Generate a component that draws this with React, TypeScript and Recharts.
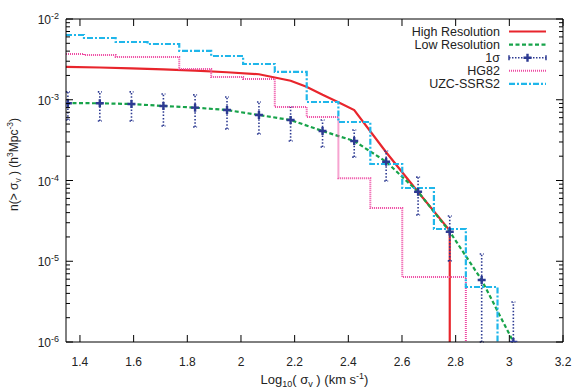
import { LineChart, Line, XAxis, YAxis, ErrorBar, Legend, Label } from "recharts";

const FONT = '"Liberation Sans", Arial, Helvetica, sans-serif';

const RED = "#e8252c";
const GREEN = "#17a34a";
const NAVY = "#2d3a92";
const PINK = "#ee4aa3";
const CYAN = "#1fb6ea";

// High Resolution
const highX = [1.348, 1.474, 1.592, 1.711, 1.829, 1.948, 2.067, 2.185, 2.244, 2.304, 2.363, 2.422, 2.541, 2.66, 2.778, 2.778];
const highN = [2.56e-3, 2.51e-3, 2.45e-3, 2.38e-3, 2.29e-3, 2.19e-3, 2.07e-3, 1.72e-3, 1.45e-3, 1.15e-3, 9.3e-4, 7.46e-4, 2.24e-4, 7.2e-5, 2.4e-5, 1e-8];

// Low Resolution
const lowX = [1.348, 1.474, 1.592, 1.711, 1.829, 1.948, 2.067, 2.185, 2.304, 2.422, 2.541, 2.66, 2.778, 2.897, 3.015];
const lowN = [9.1e-4, 9.04e-4, 8.85e-4, 8.38e-4, 7.98e-4, 7.46e-4, 6.47e-4, 5.61e-4, 4.1e-4, 3.08e-4, 1.71e-4, 7.26e-5, 2.32e-5, 5.86e-6, 1.0e-6];

// 1 sigma points with error range
const sigmaX = [1.355, 1.474, 1.592, 1.711, 1.829, 1.948, 2.067, 2.185, 2.304, 2.422, 2.541, 2.66, 2.778, 2.897, 3.015];
const sigmaN = [9.04e-4, 9.04e-4, 8.85e-4, 8.38e-4, 7.98e-4, 7.46e-4, 6.47e-4, 5.61e-4, 4.1e-4, 3.08e-4, 1.71e-4, 7.26e-5, 2.32e-5, 5.86e-6, 1.0e-6];
const sigmaHigh = [1.25e-3, 1.25e-3, 1.25e-3, 1.18e-3, 1.15e-3, 1.08e-3, 9.38e-4, 8.13e-4, 5.61e-4, 4.22e-4, 2.32e-4, 1.1e-4, 3.63e-5, 1.23e-5, 3.13e-6];
const sigmaLow = [5.61e-4, 5.46e-4, 5.46e-4, 4.73e-4, 4.6e-4, 4.35e-4, 3.77e-4, 3.08e-4, 2.6e-4, 1.95e-4, 9.86e-5, 3.74e-5, 1.01e-5, 1.0e-6, 1.0e-6];

// HG82 (histogram steps)
const hgX = [1.348, 1.415, 1.533, 1.77, 1.889, 2.008, 2.126, 2.245, 2.363, 2.482, 2.601, 2.838, 2.838];
const hgN = [3.69e-3, 3.58e-3, 3.38e-3, 2.4e-3, 1.91e-3, 1.81e-3, 8.13e-4, 6.11e-4, 1.07e-4, 4.56e-5, 6.38e-6, 6.38e-6, 1e-8];

// UZC-SSRS2 (histogram steps)
const uzcX = [1.348, 1.415, 1.533, 1.652, 1.77, 1.889, 2.008, 2.126, 2.245, 2.363, 2.482, 2.601, 2.719, 2.838, 2.956, 2.956];
const uzcN = [6.34e-3, 5.82e-3, 5.19e-3, 4.9e-3, 4.02e-3, 3.48e-3, 2.77e-3, 2.21e-3, 9.38e-4, 5.3e-4, 1.6e-4, 8.07e-5, 2.51e-5, 4.8e-6, 4.8e-6, 1e-8];

const xTicks = [1.4, 1.6, 1.8, 2.0, 2.2, 2.4, 2.6, 2.8, 3.0, 3.2];
const yMajor = [1e-6, 1e-5, 1e-4, 1e-3, 1e-2];
const yTicks = [
  ...yMajor,
  ...yMajor.slice(0, 4).flatMap((d) => [2, 3, 4, 5, 6, 7, 8, 9].map((k) => k * d)),
];

const highData = highX.map((x, i) => ({ x, n: highN[i] }));
const lowData = lowX.map((x, i) => ({ x, n: lowN[i] }));
const sigmaData = sigmaX.map((x, i) => ({
  x,
  n: sigmaN[i],
  err: [sigmaN[i] - sigmaLow[i], sigmaHigh[i] - sigmaN[i]],
}));
const hgData = hgX.map((x, i) => ({ x, n: hgN[i] }));
const uzcData = uzcX.map((x, i) => ({ x, n: uzcN[i] }));

const isMajor = (v: number) => {
  const l = Math.log10(v);
  return Math.abs(l - Math.round(l)) < 1e-6;
};

const YLeftTick = (props: any) => {
  const { x, y, payload } = props;
  const v = payload.value as number;
  const major = isMajor(v);
  return (
    <g>
      <line x1={x} x2={x + (major ? 7 : 4)} y1={y} y2={y} stroke="#000" />
      {major && (
        <text x={x - 7} y={y + 5} textAnchor="end" fontSize={12} fill="#222" fontFamily={FONT}>
          10
          <tspan dy={-5} fontSize={9}>
            {Math.round(Math.log10(v))}
          </tspan>
        </text>
      )}
    </g>
  );
};

const YRightTick = (props: any) => {
  const { x, y, payload } = props;
  const major = isMajor(payload.value);
  return <line x1={x - (major ? 7 : 4)} x2={x} y1={y} y2={y} stroke="#000" />;
};

const XBottomTick = (props: any) => {
  const { x, y, payload } = props;
  return (
    <g>
      <line x1={x} x2={x} y1={y} y2={y - 7} stroke="#000" />
      <text x={x} y={y + 24} textAnchor="middle" fontSize={12} fill="#222" fontFamily={FONT}>
        {String(Number(payload.value.toFixed(1)))}
      </text>
    </g>
  );
};

const XTopTick = (props: any) => {
  const { x, y } = props;
  return <line x1={x} x2={x} y1={y} y2={y + 7} stroke="#000" />;
};

const PlusDot = (props: any) => {
  const { cx, cy, index } = props;
  if (cx == null || cy == null) return null;
  return (
    <path
      key={index}
      d={`M${cx - 4},${cy}H${cx + 4}M${cx},${cy - 4}V${cy + 4}`}
      stroke={NAVY}
      strokeWidth={2.4}
    />
  );
};

const XTitle = (props: any) => {
  const vb = props.viewBox;
  return (
    <text x={vb.x + vb.width / 2} y={vb.y + 42} textAnchor="middle" fontSize={13} fill="#222" fontFamily={FONT}>
      Log
      <tspan dy={3} fontSize={9}>10</tspan>
      <tspan dy={-3}>( σ</tspan>
      <tspan dy={3} fontSize={9}>v</tspan>
      <tspan dy={-3}> ) (km s</tspan>
      <tspan dy={-5} fontSize={9}>-1</tspan>
      <tspan dy={5}>)</tspan>
    </text>
  );
};

const YTitle = (props: any) => {
  const vb = props.viewBox;
  const cy = vb.y + vb.height / 2 - 16;
  return (
    <text
      transform={`translate(18, ${cy}) rotate(-90)`}
      x={0}
      y={0}
      textAnchor="middle"
      fontSize={12}
      fill="#222"
      fontFamily={FONT}
    >
      n(&gt; σ
      <tspan dy={3} fontSize={8.5}>v</tspan>
      <tspan dy={-3}> ) (h</tspan>
      <tspan dy={-5} fontSize={8.5}>3</tspan>
      <tspan dy={5}>Mpc</tspan>
      <tspan dy={-5} fontSize={8.5}>-3</tspan>
      <tspan dy={5}>)</tspan>
    </text>
  );
};

const legendItems = [
  { name: "High Resolution", color: RED, dash: undefined as string | undefined, width: 2.2, kind: "line" },
  { name: "Low Resolution", color: GREEN, dash: "4 2.5", width: 2.2, kind: "line" },
  { name: "1σ", color: NAVY, dash: "1.5 1.5", width: 1.6, kind: "sigma" },
  { name: "HG82", color: PINK, dash: "1 1", width: 2, kind: "line" },
  { name: "UZC-SSRS2", color: CYAN, dash: "6 2 2 2", width: 2.2, kind: "line" },
];

const renderLegend = () => (
  <svg width={576} height={100} style={{ display: "block" }}>
    {legendItems.map((it, i) => {
      const cy = 31.5 + i * 13.1;
      return (
        <g key={it.name}>
          <text x={500} y={cy + 4.3} textAnchor="end" fontSize={12.5} fill="#222" fontFamily={FONT}>
            {it.name}
          </text>
          <line x1={509} x2={546} y1={cy} y2={cy} stroke={it.color} strokeWidth={it.width} strokeDasharray={it.dash} />
          {it.kind === "sigma" && (
            <g stroke={NAVY}>
              <path d={`M${523.5},${cy}H${531.5}M${527.5},${cy - 4}V${cy + 4}`} strokeWidth={2.4} />
              <line x1={509} x2={509} y1={cy - 2.5} y2={cy + 2.5} strokeWidth={1.5} />
              <line x1={546} x2={546} y1={cy - 2.5} y2={cy + 2.5} strokeWidth={1.5} />
            </g>
          )}
        </g>
      );
    })}
  </svg>
);

export default function App() {
  return (
    <div style={{ position: "absolute", left: 0, top: 0, width: 576, height: 389, background: "#fff" }}>
      <LineChart width={576} height={389} margin={{ top: 18, right: 12, bottom: 7, left: 16 }}>
        <XAxis
          dataKey="x"
          type="number"
          domain={[1.348, 3.2]}
          ticks={xTicks}
          interval={0}
          allowDataOverflow
          tickSize={0}
          tickMargin={0}
          tickLine={false}
          tick={<XBottomTick />}
          axisLine={{ stroke: "#000" }}
          height={40}
        >
          <Label content={<XTitle />} />
        </XAxis>
        <XAxis
          xAxisId="top"
          orientation="top"
          dataKey="x"
          type="number"
          domain={[1.348, 3.2]}
          ticks={xTicks}
          interval={0}
          allowDataOverflow
          tickSize={0}
          tickMargin={0}
          tickLine={false}
          tick={<XTopTick />}
          axisLine={{ stroke: "#000" }}
          height={1}
        />
        <YAxis
          type="number"
          scale="log"
          domain={[1e-6, 1e-2]}
          ticks={yTicks}
          interval={0}
          allowDataOverflow
          tickSize={0}
          tickMargin={0}
          tickLine={false}
          tick={<YLeftTick />}
          axisLine={{ stroke: "#000" }}
          width={50}
        >
          <Label content={<YTitle />} />
        </YAxis>
        <YAxis
          yAxisId="right"
          orientation="right"
          type="number"
          scale="log"
          domain={[1e-6, 1e-2]}
          ticks={yTicks}
          interval={0}
          allowDataOverflow
          tickSize={0}
          tickMargin={0}
          tickLine={false}
          tick={<YRightTick />}
          axisLine={{ stroke: "#000" }}
          width={1}
        />
        <Legend
          layout="vertical"
          align="center"
          verticalAlign="middle"
          content={renderLegend}
          wrapperStyle={{ left: 0, top: 0, width: 576, height: 100, pointerEvents: "none" }}
        />
        <Line
          data={highData}
          dataKey="n"
          type="linear"
          stroke={RED}
          strokeWidth={2.2}
          dot={false}
          isAnimationActive={false}
        />
        <Line
          data={lowData}
          dataKey="n"
          type="linear"
          stroke={GREEN}
          strokeWidth={2.2}
          strokeDasharray="4 2.5"
          dot={false}
          isAnimationActive={false}
        />
        <Line
          data={sigmaData}
          dataKey="n"
          type="linear"
          stroke="none"
          dot={<PlusDot />}
          isAnimationActive={false}
        >
          <ErrorBar dataKey="err" direction="y" width={2} stroke={NAVY} strokeWidth={1.6} strokeDasharray="1.5 1.8" />
        </Line>
        <Line
          data={hgData}
          dataKey="n"
          type="stepAfter"
          stroke={PINK}
          strokeWidth={2}
          strokeDasharray="1 1"
          dot={false}
          isAnimationActive={false}
        />
        <Line
          data={uzcData}
          dataKey="n"
          type="stepAfter"
          stroke={CYAN}
          strokeWidth={2.2}
          strokeDasharray="6 2 2 2"
          dot={false}
          isAnimationActive={false}
        />
      </LineChart>
    </div>
  );
}
